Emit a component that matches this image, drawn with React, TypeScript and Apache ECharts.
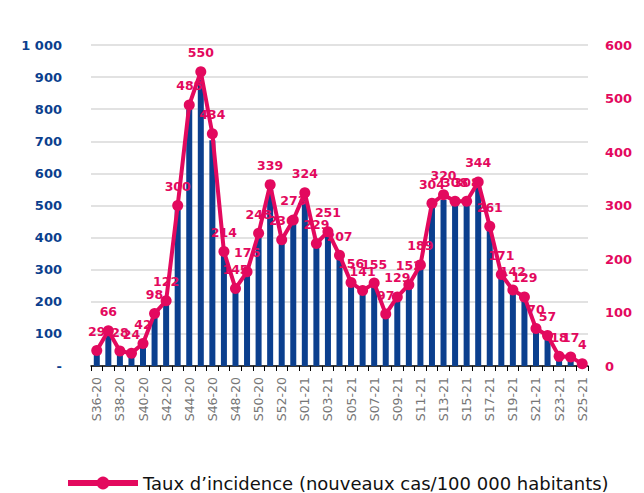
import React, { useEffect, useRef } from "react";
import * as echarts from "echarts";

const categories = [
  "S36-20","S37-20","S38-20","S39-20","S40-20","S41-20","S42-20","S43-20","S44-20","S45-20",
  "S46-20","S47-20","S48-20","S49-20","S50-20","S51-20","S52-20","S53-20",
  "S01-21","S02-21","S03-21","S04-21","S05-21","S06-21","S07-21","S08-21","S09-21","S10-21",
  "S11-21","S12-21","S13-21","S14-21","S15-21","S16-21","S17-21","S18-21","S19-21","S20-21",
  "S21-21","S22-21","S23-21","S24-21","S25-21",
];

const cases = [
  47, 107, 45, 39, 68, 159, 198, 486, 800, 891,
  703, 347, 235, 285, 402, 549, 382, 442,
  525, 371, 407, 335, 253, 228, 251, 157, 209, 246,
  306, 492, 518, 499, 499, 557, 423, 277, 230, 209,
  113, 92, 29, 28, 6,
];

const incidence = [
  29, 66, 28, 24, 42, 98, 122, 300, 488, 550,
  434, 214, 145, 176, 248, 339, 236, 273,
  324, 229, 251, 207, 156, 141, 155, 97, 129, 152,
  189, 304, 320, 308, 308, 344, 261, 171, 142, 129,
  70, 57, 18, 17, 4,
];

const leftTicks = { min: 0, max: 1000, interval: 100 };
const rightTicks = { min: 0, max: 600, interval: 100 };

const seriesName = "Taux d\u2019incidence (nouveaux cas/100 000 habitants)";

const NAVY = "#0B3F8E";
const PINK = "#E3095E";
const FONT = "DejaVu Sans";

export default function App() {
  const ref = useRef<HTMLDivElement>(null);
  useEffect(() => {
    if (!ref.current) return;
    const chart = echarts.init(ref.current, null, { renderer: "svg" });
    chart.setOption({
      animation: false,
      backgroundColor: "#fff",
      grid: { left: 91, right: 56, top: 45, bottom: 127 },
      legend: {
        data: [seriesName],
        top: 469,
        left: 60,
        itemWidth: 70,
        itemHeight: 16,
        itemGap: 8,
        lineStyle: { width: 6 },
        textStyle: { fontFamily: FONT, fontSize: 18, color: "#111" },
      },
      xAxis: {
        type: "category",
        data: categories,
        boundaryGap: true,
        axisLine: { lineStyle: { color: "#000", width: 1.5 } },
        axisTick: { show: true, alignWithLabel: false, interval: 0, length: 5, lineStyle: { color: "#000" } },
        axisLabel: {
          interval: 1,
          rotate: 90,
          color: "#767676",
          fontFamily: FONT,
          fontSize: 12.5,
          margin: 11,
        },
      },
      yAxis: [
        {
          type: "value",
          ...leftTicks,
          axisLine: { show: false },
          axisTick: { show: false },
          splitLine: { lineStyle: { color: "#D9D9D9", width: 1.5 } },
          axisLabel: {
            color: NAVY,
            fontWeight: "bold",
            fontFamily: FONT,
            fontSize: 13,
            margin: 29,
            formatter: (v: number) => (v === 0 ? "-" : v >= 1000 ? "1 000" : String(v)),
          },
        },
        {
          type: "value",
          ...rightTicks,
          position: "right",
          axisLine: { show: false },
          axisTick: { show: false },
          splitLine: { show: false },
          axisLabel: {
            color: PINK,
            fontWeight: "bold",
            fontFamily: FONT,
            fontSize: 13,
            margin: 17,
          },
        },
      ],
      series: [
        {
          name: "Cas",
          type: "bar",
          yAxisIndex: 0,
          data: cases,
          barWidth: "52%",
          itemStyle: { color: NAVY },
        },
        {
          name: seriesName,
          type: "line",
          yAxisIndex: 1,
          data: incidence,
          symbol: "circle",
          symbolSize: 11,
          showSymbol: true,
          showAllSymbol: true,
          lineStyle: { color: PINK, width: 4 },
          itemStyle: { color: PINK },
          label: {
            show: true,
            position: "top",
            distance: 7,
            color: PINK,
            fontWeight: "bold",
            fontFamily: FONT,
            fontSize: 12.5,
          },
          labelLayout: { hideOverlap: false },
          z: 3,
        },
      ],
    });
    return () => chart.dispose();
  }, []);
  return (
    <div
      ref={ref}
      style={{ position: "fixed", left: 0, top: 0, width: 644, height: 493 }}
    />
  );
}
